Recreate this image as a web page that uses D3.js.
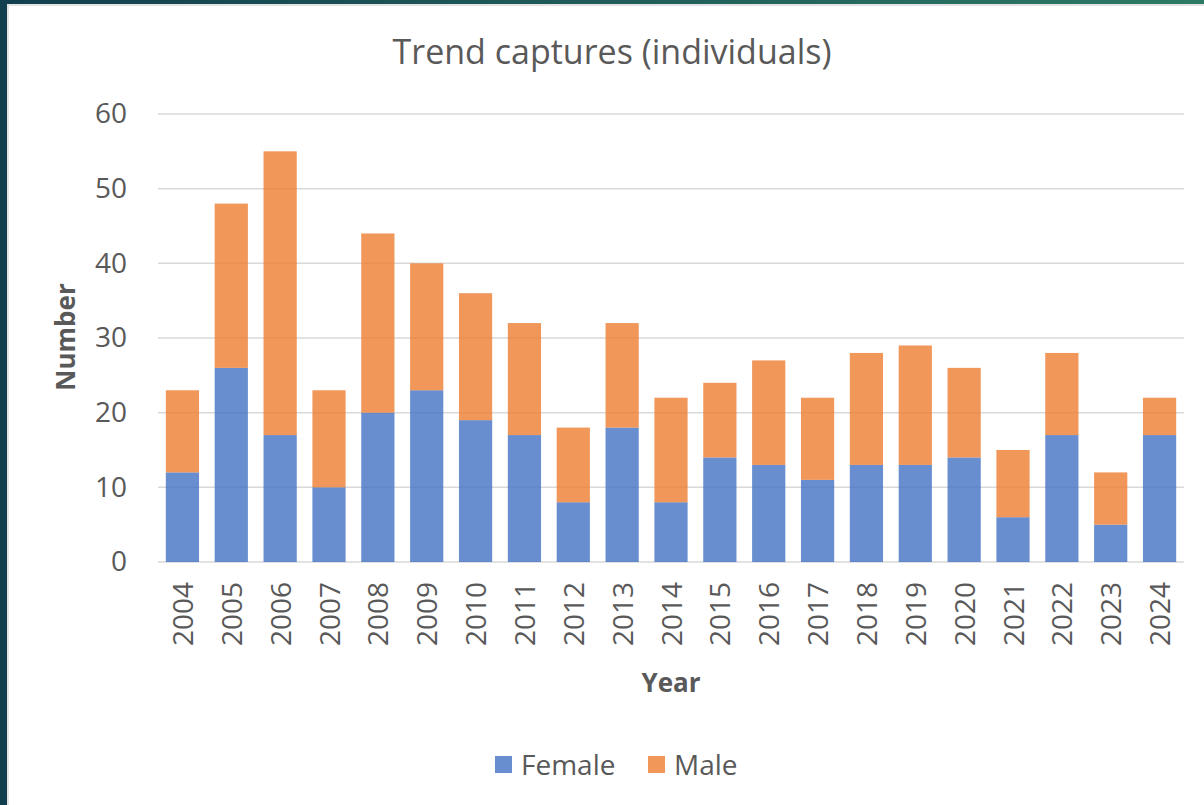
<!DOCTYPE html>
<html>
<head>
<meta charset="utf-8">
<script src="https://cdn.jsdelivr.net/npm/d3@7"></script>
<style>
  html, body { margin: 0; padding: 0; background: #fff; }
  svg { display: block; font-family: "Open Sans", "Noto Sans", sans-serif; }
</style>
</head>
<body>
<script>
var years = ["2004","2005","2006","2007","2008","2009","2010","2011","2012","2013","2014",
             "2015","2016","2017","2018","2019","2020","2021","2022","2023","2024"];
var female = [12, 26, 17, 10, 20, 23, 19, 17, 8, 18, 8, 14, 13, 11, 13, 13, 14, 6, 17, 5, 17];
var male   = [11, 22, 38, 13, 24, 17, 17, 15, 10, 14, 14, 10, 14, 11, 15, 16, 12, 9, 11, 7, 5];
var yTicks = [0, 10, 20, 30, 40, 50, 60];
var seriesNames = ["Female", "Male"];
var colors = ["#4472C4", "#ED7D31"];

var W = 1204, H = 805;
var margin = { top: 114, right: 20, bottom: 243, left: 158 },
    width = 1184 - margin.left,
    height = 562 - margin.top;

var svg = d3.select("body").append("svg")
    .attr("width", W)
    .attr("height", H);

// frame: dark gradient band on the left and top
var defs = svg.append("defs");
var grad = defs.append("linearGradient").attr("id", "frame").attr("x1", 0).attr("x2", 1);
grad.append("stop").attr("offset", 0).attr("stop-color", "#123f4e");
grad.append("stop").attr("offset", 1).attr("stop-color", "#2e7a66");
svg.append("rect").attr("width", W).attr("height", 4).attr("fill", "url(#frame)");
svg.append("rect").attr("width", 7).attr("height", H).attr("fill", "#123f4e");
svg.append("rect").attr("x", 7).attr("y", 4).attr("width", W - 7).attr("height", 2).attr("fill", "#e3e3e3");
svg.append("rect").attr("x", 7).attr("y", 4).attr("width", 2).attr("height", H).attr("fill", "#e3e3e3");

var main = svg.append("g")
    .attr("transform", "translate(" + margin.left + "," + margin.top + ")");

var x = d3.scaleBand()
    .domain(years)
    .range([0, width])
    .paddingInner(0.32)
    .paddingOuter(0.16);

var y = d3.scaleLinear()
    .domain([0, 60])
    .range([height, 0]);

// gridlines
main.append("g")
    .selectAll("line")
    .data(yTicks)
    .enter().append("line")
    .attr("x1", 0)
    .attr("x2", width)
    .attr("y1", function (d) { return y(d); })
    .attr("y2", function (d) { return y(d); })
    .attr("stroke", "#d9d9d9")
    .attr("stroke-width", 1.5);

// y tick labels
var yAxis = main.append("g")
    .call(d3.axisLeft(y).tickValues(yTicks).tickSize(0).tickPadding(31));
yAxis.select(".domain").remove();
yAxis.selectAll("text")
    .attr("font-size", 28)
    .attr("fill", "#595959")
    .attr("font-family", "'Open Sans', sans-serif");

// stacked bars
var rows = years.map(function (yr, i) {
    return { year: yr, Female: female[i], Male: male[i] };
});
var stack = d3.stack().keys(seriesNames)(rows);

main.append("g")
    .selectAll("g")
    .data(stack)
    .enter().append("g")
    .attr("fill", function (d, i) { return colors[i]; })
    .attr("fill-opacity", 0.8)
    .selectAll("rect")
    .data(function (d) { return d; })
    .enter().append("rect")
    .attr("x", function (d) { return x(d.data.year); })
    .attr("width", x.bandwidth())
    .attr("y", function (d) { return y(d[1]); })
    .attr("height", function (d) { return y(d[0]) - y(d[1]); });

// x axis labels (rotated)
var xAxis = main.append("g")
    .attr("transform", "translate(0," + height + ")")
    .call(d3.axisBottom(x).tickSize(0).tickPadding(0));
xAxis.select(".domain").remove();
xAxis.selectAll("text")
    .attr("font-size", 28)
    .attr("fill", "#595959")
    .attr("font-family", "'Open Sans', sans-serif")
    .attr("transform", "rotate(-90)")
    .attr("text-anchor", "end")
    .attr("dy", "0.38em")
    .attr("x", -20)
    .attr("y", 0);

// title
svg.append("text")
    .attr("x", 612)
    .attr("y", 64)
    .attr("text-anchor", "middle")
    .attr("font-size", 34)
    .attr("fill", "#595959")
    .text("Trend captures (individuals)");

// axis titles
svg.append("text")
    .attr("transform", "translate(75," + (margin.top + height / 2 - 1) + ") rotate(-90)")
    .attr("text-anchor", "middle")
    .attr("font-size", 26)
    .attr("font-weight", "bold")
    .attr("fill", "#595959")
    .text("Number");

svg.append("text")
    .attr("x", 671)
    .attr("y", 692)
    .attr("text-anchor", "middle")
    .attr("font-size", 26)
    .attr("font-weight", "bold")
    .attr("fill", "#595959")
    .text("Year");

// legend
var legendX = [495, 648];
var legend = svg.append("g")
    .selectAll("g")
    .data(seriesNames)
    .enter().append("g")
    .attr("transform", function (d, i) { return "translate(" + legendX[i] + ",756)"; });
legend.append("rect")
    .attr("width", 17)
    .attr("height", 17)
    .attr("fill", function (d, i) { return colors[i]; })
    .attr("fill-opacity", 0.8);
legend.append("text")
    .attr("x", 26)
    .attr("y", 9)
    .attr("dy", "0.35em")
    .attr("font-size", 28)
    .attr("fill", "#595959")
    .text(function (d) { return d; });
</script>
</body>
</html>
